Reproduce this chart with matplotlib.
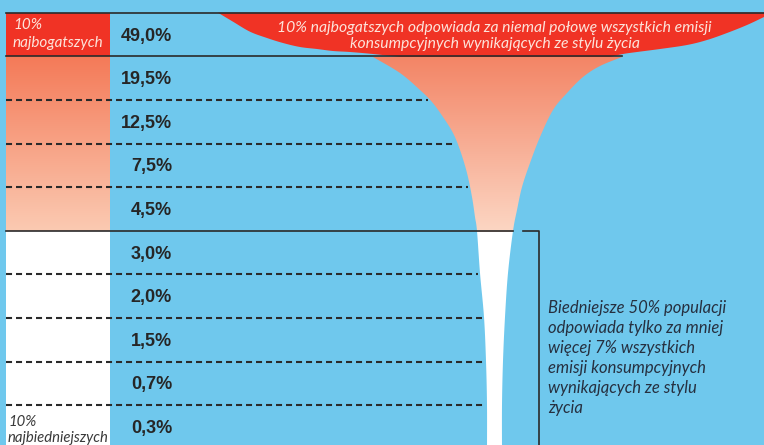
import numpy as np
import matplotlib.pyplot as plt
from matplotlib.patches import Polygon, Rectangle

# Share of lifestyle consumption emissions per population decile (richest first)
shares = ["49,0%", "19,5%", "12,5%", "7,5%", "4,5%", "3,0%", "2,0%", "1,5%", "0,7%", "0,3%"]
top_label = "10%\nnajbogatszych"
bottom_label = "10%\nnajbiedniejszych"
top_note = ("10% najbogatszych odpowiada za niemal połowę wszystkich emisji\n"
            "konsumpcyjnych wynikających ze stylu życia")
side_note = ("Biedniejsze 50% populacji\nodpowiada tylko za mniej\nwięcej 7% wszystkich\n"
             "emisji konsumpcyjnych\nwynikających ze stylu\nżycia")

BLUE = "#6fc8ed"
RED = "#f03325"
DARK = "#2a2a2a"


def smooth(pts, n=12):
    # Catmull-Rom through the control points
    p = np.asarray(pts, float)
    p = np.vstack([p[0], p, p[-1]])
    out = []
    for i in range(1, len(p) - 2):
        p0, p1, p2, p3 = p[i - 1], p[i], p[i + 1], p[i + 2]
        for t in np.linspace(0, 1, n, endpoint=False):
            out.append(0.5 * ((2 * p1) + (-p0 + p2) * t + (2 * p0 - 5 * p1 + 4 * p2 - p3) * t ** 2
                              + (-p0 + 3 * p1 - 3 * p2 + p3) * t ** 3))
    out.append(p[-2])
    return np.array(out)


fig = plt.figure(figsize=(7.64, 4.45), dpi=100)
fig.patch.set_facecolor(BLUE)
ax = fig.add_axes([0, 0, 1, 1])
ax.set_xlim(0, 764)
ax.set_ylim(445, 0)
ax.axis("off")

top = 12.7
row_h = 43.6
col_l, col_r = 6, 110
n = len(shares)
split = top + 5 * row_h  # richest half / poorest half

# funnel outline (decorative shape)
left_edge = smooth([(373, 57), (400, 73), (420, 90), (432, 102), (443, 117), (453, 133), (460, 150),
                    (467, 173), (472, 197), (475, 217), (477, 231), (480, 273), (484, 317),
                    (486, 361), (487, 405), (487, 450)])
right_edge = smooth([(622, 57), (600, 66), (583, 77), (567, 93), (553, 110), (540, 137), (530, 163),
                     (522, 187), (517, 210), (513, 231), (508, 273), (505, 317), (503, 361),
                     (502, 405), (502, 450)])
blob_left = smooth([(218, top), (233, 21.7), (250, 31.7), (267, 38), (283, 43), (300, 47), (317, 49),
                    (333, 51), (350, 52), (373, 54), (400, 57)])
blob_right = smooth([(764, 17), (747, 25), (727, 33), (707, 40), (687, 45), (660, 49), (637, 52),
                     (623, 54), (610, 57)])

# left column: red, gradient, white
ax.add_patch(Rectangle((col_l, top), col_r - col_l, row_h, color=RED, lw=0, zorder=1))
c_top = np.array([244, 122, 88]) / 255
c_bot = np.array([251, 202, 178]) / 255
g = np.linspace(0, 1, 200)[:, None, None]
grad = c_top * (1 - g) + c_bot * g
ax.imshow(grad, extent=(col_l, col_r, split, top + row_h), aspect="auto", zorder=1, interpolation="bilinear")
ax.add_patch(Rectangle((col_l, split), col_r - col_l, 445 - split, color="white", lw=0, zorder=1))

# red blob
blob = np.vstack([[(218, top), (764, top)], blob_right, blob_left[::-1]])
ax.add_patch(Polygon(blob, closed=True, color=RED, lw=0, zorder=2))

# funnel with gradient + white stem
funnel = Polygon(np.vstack([left_edge, right_edge[::-1]]), closed=True, facecolor="none", lw=0)
ax.add_patch(funnel)
f_top = np.array([243, 133, 102]) / 255
f_bot = np.array([252, 214, 195]) / 255
ys = np.linspace(50, 450, 400)
t = np.clip((ys - 57) / (split - 57), 0, 1)[:, None]
img = f_top * (1 - t) + f_bot * t
img[ys >= split + 1] = 1.0
im = ax.imshow(img[:, None, :], extent=(350, 640, 450, 50), aspect="auto", zorder=3,
               interpolation="bilinear")
im.set_clip_path(funnel)
ax.set_xlim(0, 764)
ax.set_ylim(445, 0)

# row separators
for i in range(1, n):
    y = top + i * row_h
    if i == 1:
        ax.plot([col_l, 622], [y, y], color=DARK, lw=1.2, zorder=4)
    elif i == 5:
        ax.plot([col_l, 513], [y, y], color=DARK, lw=1.2, zorder=4)
        ax.plot([523, 539, 539], [y, y, 450], color=DARK, lw=1.2, zorder=4)
    else:
        xe = np.interp(y, left_edge[:, 1], left_edge[:, 0]) - 2
        ax.plot([col_l, xe], [y, y], color=DARK, lw=1.5, ls=(0, (2.9, 1.9)), zorder=2)
ax.plot([col_l, 764], [top, top], color=DARK, lw=1.2, zorder=4)

# percentages
for i, s in enumerate(shares):
    ax.text(172, top + (i + 0.5) * row_h + 1.5, s, ha="right", va="center",
            fontsize=13, fontweight="bold", family="Liberation Sans", color="#262626", zorder=5)

ax.text(13, 18, top_label, ha="left", va="top", fontsize=11, style="italic", family="Lato",
        color="#fde3da", linespacing=1.35, zorder=5)
ax.text(8, 415, bottom_label, ha="left", va="top", fontsize=10.7, style="italic", family="Lato",
        color="#3a3a3a", linespacing=1.18, zorder=5)
ax.text(494.5, 36, top_note, ha="center", va="center", fontsize=11.3, style="italic", family="Lato",
        color="#fde3da", linespacing=1.1, zorder=5)
ax.text(548, 300, side_note, ha="left", va="top", fontsize=12, style="italic", family="Lato",
        color="#263040", linespacing=1.3, zorder=5)

fig.savefig("out.png", dpi=100, facecolor=BLUE)
